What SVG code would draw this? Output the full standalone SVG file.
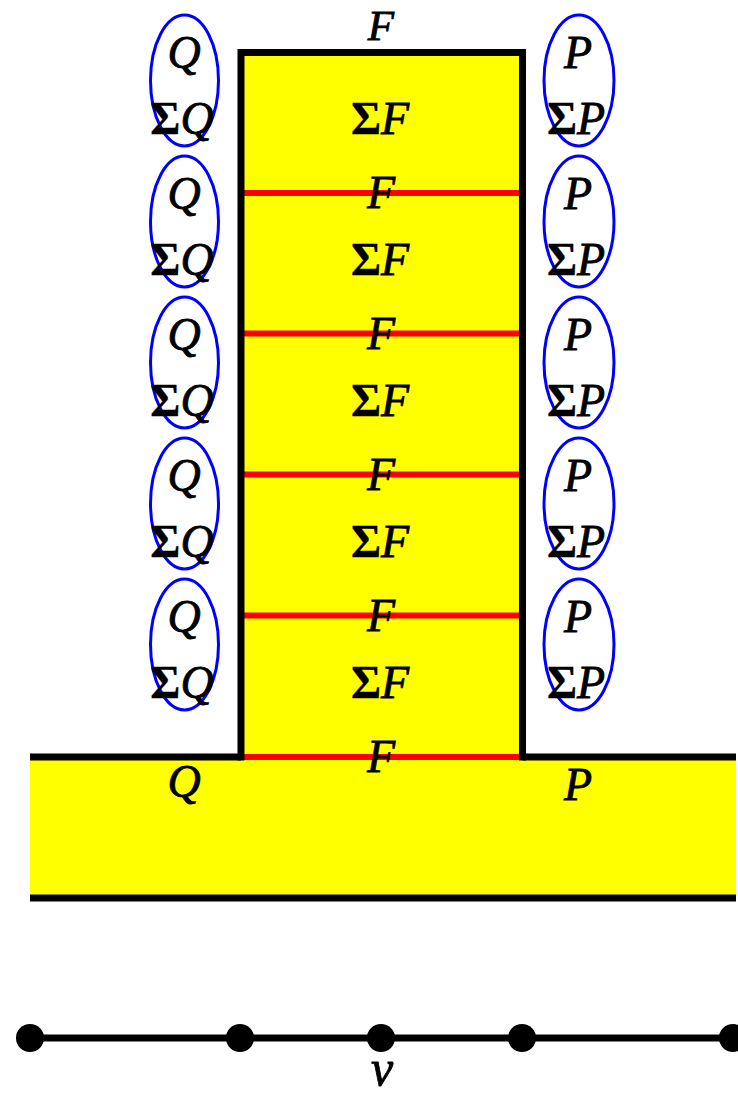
<svg xmlns="http://www.w3.org/2000/svg" width="738" height="1097" viewBox="0 0 738 1097">
<style>
.t{font-family:"Liberation Serif","DejaVu Serif",serif;font-size:46px;font-style:italic;text-anchor:middle;fill:#000;stroke:#000;stroke-width:0.8}
.s{font-style:normal;font-weight:bold;stroke-width:0.3}
.e{fill:none;stroke:#0000ff;stroke-width:3}
.blk{stroke:#000;stroke-width:7;fill:none}
.red{stroke:#ff0000;stroke-width:6}
</style>
<g id="base">
<rect x="30" y="757" width="706" height="141" fill="#ffff00"/>
<path class="blk" d="M30 757H241M522.5 757H736M30 898H736"/>
</g>
<g id="tower">
<rect x="241" y="52.5" width="281.5" height="704.5" fill="#ffff00"/>
<g class="red">
<line x1="244" y1="193" x2="519" y2="193"/>
<line x1="244" y1="333.5" x2="519" y2="333.5"/>
<line x1="244" y1="474.5" x2="519" y2="474.5"/>
<line x1="244" y1="615.5" x2="519" y2="615.5"/>
<line x1="244" y1="757" x2="519" y2="757"/>
</g>
<path class="blk" d="M241 760.5V52.5H522.5V760.5"/>
</g>
<g id="ellipses">
<ellipse class="e" cx="184.5" cy="80.5" rx="34" ry="65.5"/>
<ellipse class="e" cx="184.5" cy="221.5" rx="34" ry="65.5"/>
<ellipse class="e" cx="184.5" cy="362.5" rx="34" ry="65.5"/>
<ellipse class="e" cx="184.5" cy="503.5" rx="34" ry="65.5"/>
<ellipse class="e" cx="184.5" cy="644.5" rx="34" ry="65.5"/>
<ellipse class="e" cx="579" cy="80.5" rx="35" ry="65.5"/>
<ellipse class="e" cx="579" cy="221.5" rx="35" ry="65.5"/>
<ellipse class="e" cx="579" cy="362.5" rx="35" ry="65.5"/>
<ellipse class="e" cx="579" cy="503.5" rx="35" ry="65.5"/>
<ellipse class="e" cx="579" cy="644.5" rx="35" ry="65.5"/>
</g>
<g id="labels">
<text class="t" x="381" y="40" style="font-size:43px">F</text>
<text class="t" x="184" y="68">Q</text>
<text class="t" x="578" y="68">P</text>
<text class="t" x="182" y="134"><tspan class="s">Σ</tspan>Q</text>
<text class="t" x="380" y="134"><tspan class="s">Σ</tspan>F</text>
<text class="t" x="576" y="134"><tspan class="s">Σ</tspan>P</text>
<text class="t" x="381" y="208">F</text>
<text class="t" x="184" y="209">Q</text>
<text class="t" x="578" y="209">P</text>
<text class="t" x="182" y="275"><tspan class="s">Σ</tspan>Q</text>
<text class="t" x="380" y="275"><tspan class="s">Σ</tspan>F</text>
<text class="t" x="576" y="275"><tspan class="s">Σ</tspan>P</text>
<text class="t" x="381" y="349">F</text>
<text class="t" x="184" y="350">Q</text>
<text class="t" x="578" y="350">P</text>
<text class="t" x="182" y="416"><tspan class="s">Σ</tspan>Q</text>
<text class="t" x="380" y="416"><tspan class="s">Σ</tspan>F</text>
<text class="t" x="576" y="416"><tspan class="s">Σ</tspan>P</text>
<text class="t" x="381" y="490">F</text>
<text class="t" x="184" y="491">Q</text>
<text class="t" x="578" y="491">P</text>
<text class="t" x="182" y="557"><tspan class="s">Σ</tspan>Q</text>
<text class="t" x="380" y="557"><tspan class="s">Σ</tspan>F</text>
<text class="t" x="576" y="557"><tspan class="s">Σ</tspan>P</text>
<text class="t" x="381" y="631">F</text>
<text class="t" x="184" y="632">Q</text>
<text class="t" x="578" y="632">P</text>
<text class="t" x="182" y="698"><tspan class="s">Σ</tspan>Q</text>
<text class="t" x="380" y="698"><tspan class="s">Σ</tspan>F</text>
<text class="t" x="576" y="698"><tspan class="s">Σ</tspan>P</text>
<text class="t" x="381" y="772">F</text>
<text class="t" x="184" y="797">Q</text>
<text class="t" x="578" y="800">P</text>
</g>
<g id="connectors">
<line x1="30" y1="1038" x2="733" y2="1038" stroke="#000" stroke-width="7"/>
</g>
<g id="nodes">
<circle id="n1" cx="30" cy="1038" r="14"/>
<circle id="n2" cx="240" cy="1038" r="14"/>
<circle id="n3" cx="381" cy="1038" r="14"/>
<circle id="n4" cx="522" cy="1038" r="14"/>
<circle id="n5" cx="733" cy="1038" r="14"/>
</g>
<text class="t" x="382" y="1085" style="font-size:50px">v</text>
</svg>
